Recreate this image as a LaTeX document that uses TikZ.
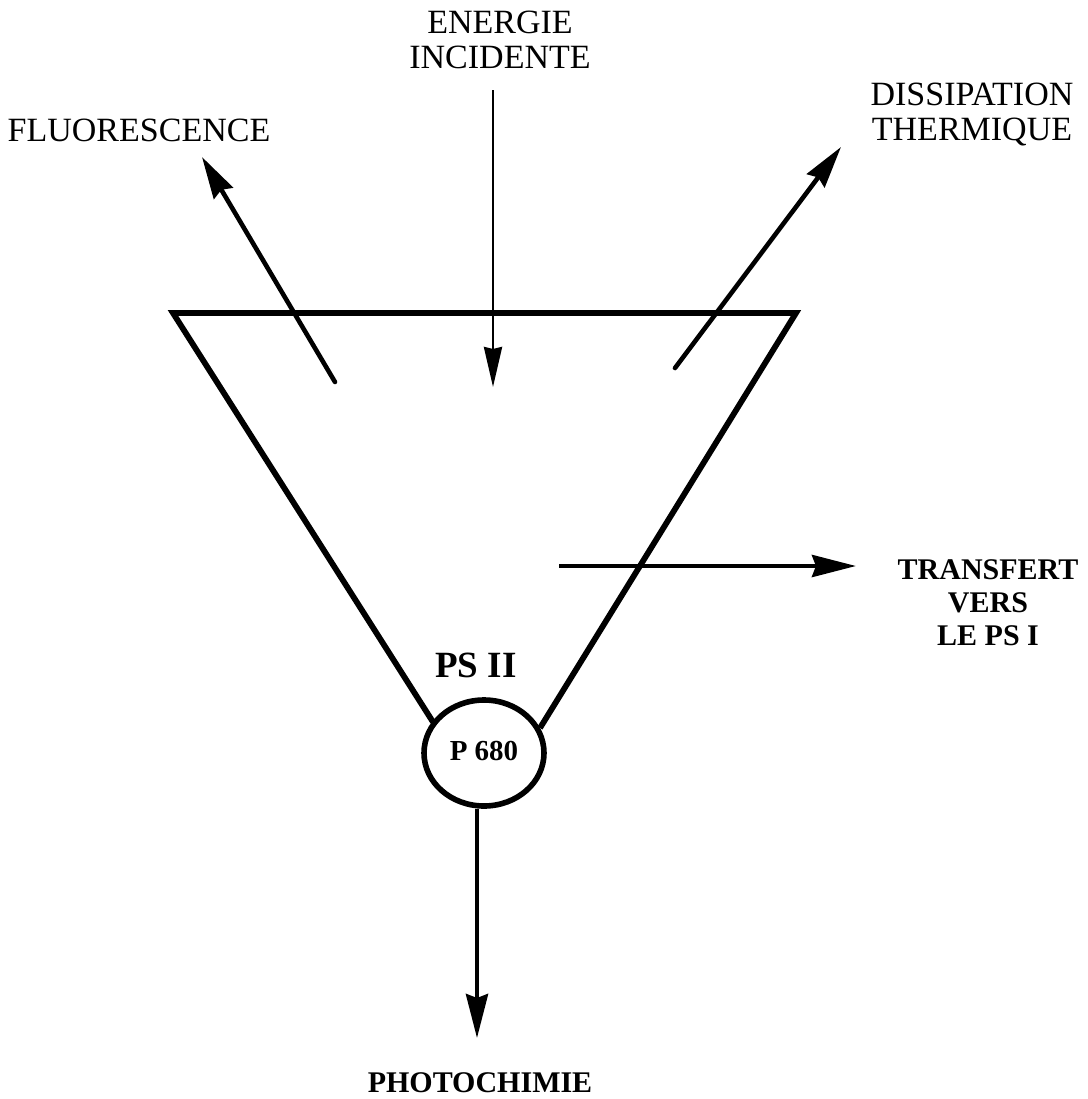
\documentclass[tikz,border=0pt]{standalone}
\usepackage{fontspec}
\setmainfont{Liberation Serif}
\usetikzlibrary{arrows.meta,shapes.geometric}
\tikzset{
  toplabel/.style={align=center,inner sep=0pt,font=\fontsize{17}{17.5}\selectfont},
  boldlabel/.style={align=center,inner sep=0pt,font=\fontsize{15}{16.5}\selectfont\bfseries},
  side/.style={line width=2.9pt,line join=miter},
  arr/.style={line width=2.3pt,line cap=round,-{Stealth[length=21pt,width=11pt,inset=2pt]}},
  thinarr/.style={line width=1.4pt,-{Stealth[length=20pt,width=9pt,inset=1pt]}},
  bigarr/.style={line width=2.2pt,-{Stealth[length=22pt,width=11pt,inset=2pt]}},
  centre/.style={ellipse,draw,line width=2.8pt,minimum width=60pt,minimum height=53pt,inner sep=0pt,font=\fontsize{14.5}{16}\selectfont\bfseries}
}
\begin{document}
\begin{tikzpicture}[x=0.5pt,y=-0.5pt]
\useasboundingbox (0,0) rectangle (1088,1099);
% centre
\node[centre] (p680) at (484,753) {\raisebox{2pt}{P 680}};
% triangle
\coordinate (T1) at (173,313);
\coordinate (T2) at (796,313);
\coordinate (L) at (433,722);
\coordinate (R) at (540,728);
\draw[side] (L) -- (T1) -- (T2) -- (R);
% labels
\node[toplabel] (fluo) at (139,130) {FLUORESCENCE};
\node[toplabel] (ener) at (500,40) {ENERGIE\\INCIDENTE};
\node[toplabel] (diss) at (972,114) {DISSIPATION\\THERMIQUE};
\node[boldlabel] (trans) at (988,603) {TRANSFERT\\VERS\\LE PS I};
\node[boldlabel,font=\fontsize{18.5}{20}\selectfont\bfseries] (ps) at (476,665) {PS II};
\node[boldlabel,font=\fontsize{15}{17}\selectfont\bfseries] (photo) at (480,1083) {PHOTOCHIMIE};
% arrow coordinates
\coordinate (fs) at (335,382);
\coordinate (ft) at (202,157);
\coordinate (ds) at (675,368);
\coordinate (dt) at (841,147);
\coordinate (es) at (493,90);
\coordinate (et) at (493,387);
\coordinate (ts) at (559,566);
\coordinate (tt) at (856,566);
\coordinate (pt) at (477,1038);
% arrows
\draw[arr] (fs) -- (ft);
\draw[arr] (ds) -- (dt);
\draw[thinarr] (es) -- (et);
\draw[bigarr] (ts) -- (tt);
\draw[bigarr] (p680.south -| pt) -- (pt);
\end{tikzpicture}
\end{document}
